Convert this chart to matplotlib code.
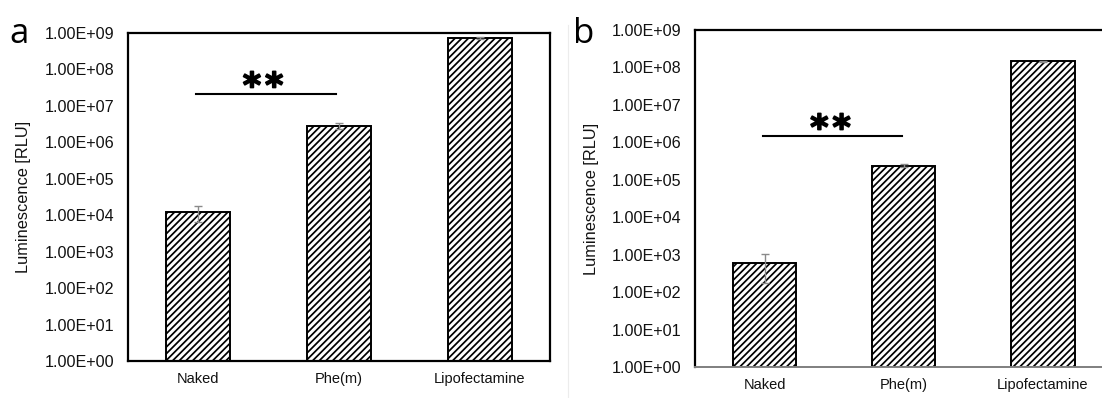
import matplotlib
matplotlib.use('Agg')
import matplotlib.pyplot as plt
import matplotlib.patheffects as pe
from matplotlib.ticker import FixedLocator, FuncFormatter, NullLocator
from matplotlib.lines import Line2D

plt.rcParams['font.family'] = ['Liberation Sans', 'DejaVu Sans']
plt.rcParams['hatch.linewidth'] = 1.25

# data
groups = ['Naked', 'Phe(m)', 'Lipofectamine']
lum_a = [1.22e4, 2.86e6, 7.3e8]
err_a = [5.6e3, 5.0e5, 3.0e7]
lum_b = [6.1e2, 2.4e5, 1.45e8]
err_b = [4.4e2, 2.0e4, 5.0e6]
sig_a = 2.16e7   # height of the ** bar
sig_b = 1.5e6
yticks = [10.0 ** k for k in range(0, 10)]

W, H = 1102, 398
fig = plt.figure(figsize=(W / 100, H / 100), dpi=100)

# axes boxes in pixels (left, bottom, right, top)
ax_a = fig.add_axes([128 / W, (H - 361) / H, 422 / W, 328 / H])
ax_b = fig.add_axes([695 / W, (H - 367) / H, 417.6 / W, 337 / H])


def draw_panel(ax, vals, errs, sig_y, sig_x, star_x, letter, letter_xy):
    x = range(len(groups))
    ax.bar(x, [v - 1 for v in vals], bottom=1, width=0.455, color='white',
           edgecolor='black', linewidth=1.4, hatch='/////', zorder=2)
    ax.errorbar(x, vals, yerr=errs, fmt='none', ecolor='#8a8a8a',
                elinewidth=1.0, capsize=3, capthick=1.0, zorder=3)
    ax.set_yscale('log')
    ax.set_ylim(1, 1e9)
    ax.set_xlim(-0.5, len(groups) - 0.5)
    ax.yaxis.set_major_locator(FixedLocator(yticks))
    ax.yaxis.set_minor_locator(NullLocator())
    ax.yaxis.set_major_formatter(FuncFormatter(lambda v, p: f"{v:.2E}"))
    ax.set_xticks(list(x))
    ax.set_xticklabels(groups, fontsize=10.5, color='#111111')
    ax.tick_params(axis='y', length=0, pad=10, labelsize=11.6, labelcolor='#111111')
    ax.tick_params(axis='x', length=0, pad=8)
    ax.set_ylabel('Luminescence [RLU]', fontsize=11.8, color='#111111')
    ax.yaxis.set_label_coords(-0.23, 0.5)

    # significance bar with two separate stars
    ax.plot(sig_x, [sig_y, sig_y], color='black', linewidth=1.5, zorder=4)
    for dx in (-8, 8):
        ax.annotate('*', (star_x, sig_y), xytext=(dx, -2.5), textcoords='offset points',
                    ha='center', va='baseline', fontsize=25, fontweight='bold',
                    family='DejaVu Sans',
                    path_effects=[pe.withStroke(linewidth=1.2, foreground='black')])

    fig.text(letter_xy[0] / W, 1 - letter_xy[1] / H, letter, fontsize=25,
             ha='left', va='baseline', family='Open Sans')


draw_panel(ax_a, lum_a, err_a, sig_a, [-0.02, 0.98], 0.46, 'a', (9, 43))
draw_panel(ax_b, lum_b, err_b, sig_b, [-0.01, 0.99], 0.473, 'b', (573, 43))

for s in ax_a.spines.values():
    s.set_linewidth(1.6)
    s.set_color('black')

ax_b.spines['left'].set_linewidth(1.6)
ax_b.spines['top'].set_linewidth(1.6)
ax_b.spines['bottom'].set_color('#7f7f7f')
ax_b.spines['bottom'].set_linewidth(1.4)
ax_b.spines['right'].set_visible(False)

# faint divider between the two panels
fig.add_artist(Line2D([568 / W, 568 / W], [0, 1 - 25 / H], color='#ececec', linewidth=0.8))

fig.savefig('out.png', dpi=100, facecolor='white')
